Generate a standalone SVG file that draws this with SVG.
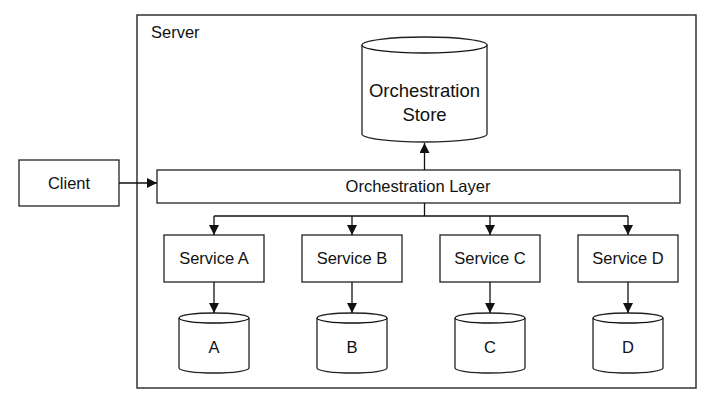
<svg xmlns="http://www.w3.org/2000/svg" width="716" height="403" viewBox="0 0 716 403">
<defs>
<style>
.box{fill:#fff;stroke:#222;stroke-width:1.3}
.srv{fill:none;stroke:#333;stroke-width:1.5}
.ln{fill:none;stroke:#111;stroke-width:1.3}
text{font-family:"Liberation Sans",Arial,sans-serif;font-size:16.5px;fill:#111;text-anchor:middle}
</style>
<marker id="ah" markerUnits="userSpaceOnUse" markerWidth="12" markerHeight="12" refX="10" refY="5" orient="auto">
<path d="M0,0 L10,5 L0,10 Z" fill="#111"/>
</marker>
</defs>
<rect width="716" height="403" fill="#fff"/>
<g id="server">
<rect class="srv" x="137" y="15" width="559" height="373"/>
<text x="151" y="38" style="text-anchor:start">Server</text>
</g>
<g id="client">
<rect class="box" x="19" y="160" width="100" height="46"/>
<text x="69" y="189">Client</text>
</g>
<g id="store">
<path class="box" d="M362,45 L362,134 A62.5,8 0 0 0 487,134 L487,45 A62.5,8 0 0 0 362,45 Z"/>
<path class="ln" d="M362,45 A62.5,8 0 0 0 487,45"/>
<text x="424.5" y="97" style="font-size:18.5px">Orchestration</text>
<text x="424.5" y="121" style="font-size:18.5px">Store</text>
</g>
<g id="layer">
<rect class="box" x="157" y="170" width="523" height="33"/>
<text x="418" y="192">Orchestration Layer</text>
</g>
<g id="svcA"><rect class="box" x="164" y="235" width="100" height="47"/><text x="214" y="264">Service A</text></g>
<g id="svcB"><rect class="box" x="302" y="235" width="100" height="47"/><text x="352" y="264">Service B</text></g>
<g id="svcC"><rect class="box" x="440" y="235" width="100" height="47"/><text x="490" y="264">Service C</text></g>
<g id="svcD"><rect class="box" x="578" y="235" width="100" height="47"/><text x="628" y="264">Service D</text></g>
<g id="dbA"><path class="box" d="M179,318 L179,368 A35,5 0 0 0 249,368 L249,318 A35,5 0 0 0 179,318 Z"/><path class="ln" d="M179,318 A35,5 0 0 0 249,318"/><text x="214" y="353">A</text></g>
<g id="dbB"><path class="box" d="M317,318 L317,368 A35,5 0 0 0 387,368 L387,318 A35,5 0 0 0 317,318 Z"/><path class="ln" d="M317,318 A35,5 0 0 0 387,318"/><text x="352" y="353">B</text></g>
<g id="dbC"><path class="box" d="M455,318 L455,368 A35,5 0 0 0 525,368 L525,318 A35,5 0 0 0 455,318 Z"/><path class="ln" d="M455,318 A35,5 0 0 0 525,318"/><text x="490" y="353">C</text></g>
<g id="dbD"><path class="box" d="M593,318 L593,368 A35,5 0 0 0 663,368 L663,318 A35,5 0 0 0 593,318 Z"/><path class="ln" d="M593,318 A35,5 0 0 0 663,318"/><text x="628" y="353">D</text></g>
<g id="connectors">
<path class="ln" d="M119,183 L157,183" marker-end="url(#ah)"/>
<path class="ln" d="M424.5,170 L424.5,143" marker-end="url(#ah)"/>
<path class="ln" d="M424.5,203 L424.5,216 M214,216 L628,216"/>
<path class="ln" d="M214,216 L214,235" marker-end="url(#ah)"/>
<path class="ln" d="M352,216 L352,235" marker-end="url(#ah)"/>
<path class="ln" d="M490,216 L490,235" marker-end="url(#ah)"/>
<path class="ln" d="M628,216 L628,235" marker-end="url(#ah)"/>
<path class="ln" d="M214,282 L214,313" marker-end="url(#ah)"/>
<path class="ln" d="M352,282 L352,313" marker-end="url(#ah)"/>
<path class="ln" d="M490,282 L490,313" marker-end="url(#ah)"/>
<path class="ln" d="M628,282 L628,313" marker-end="url(#ah)"/>
</g>
</svg>
